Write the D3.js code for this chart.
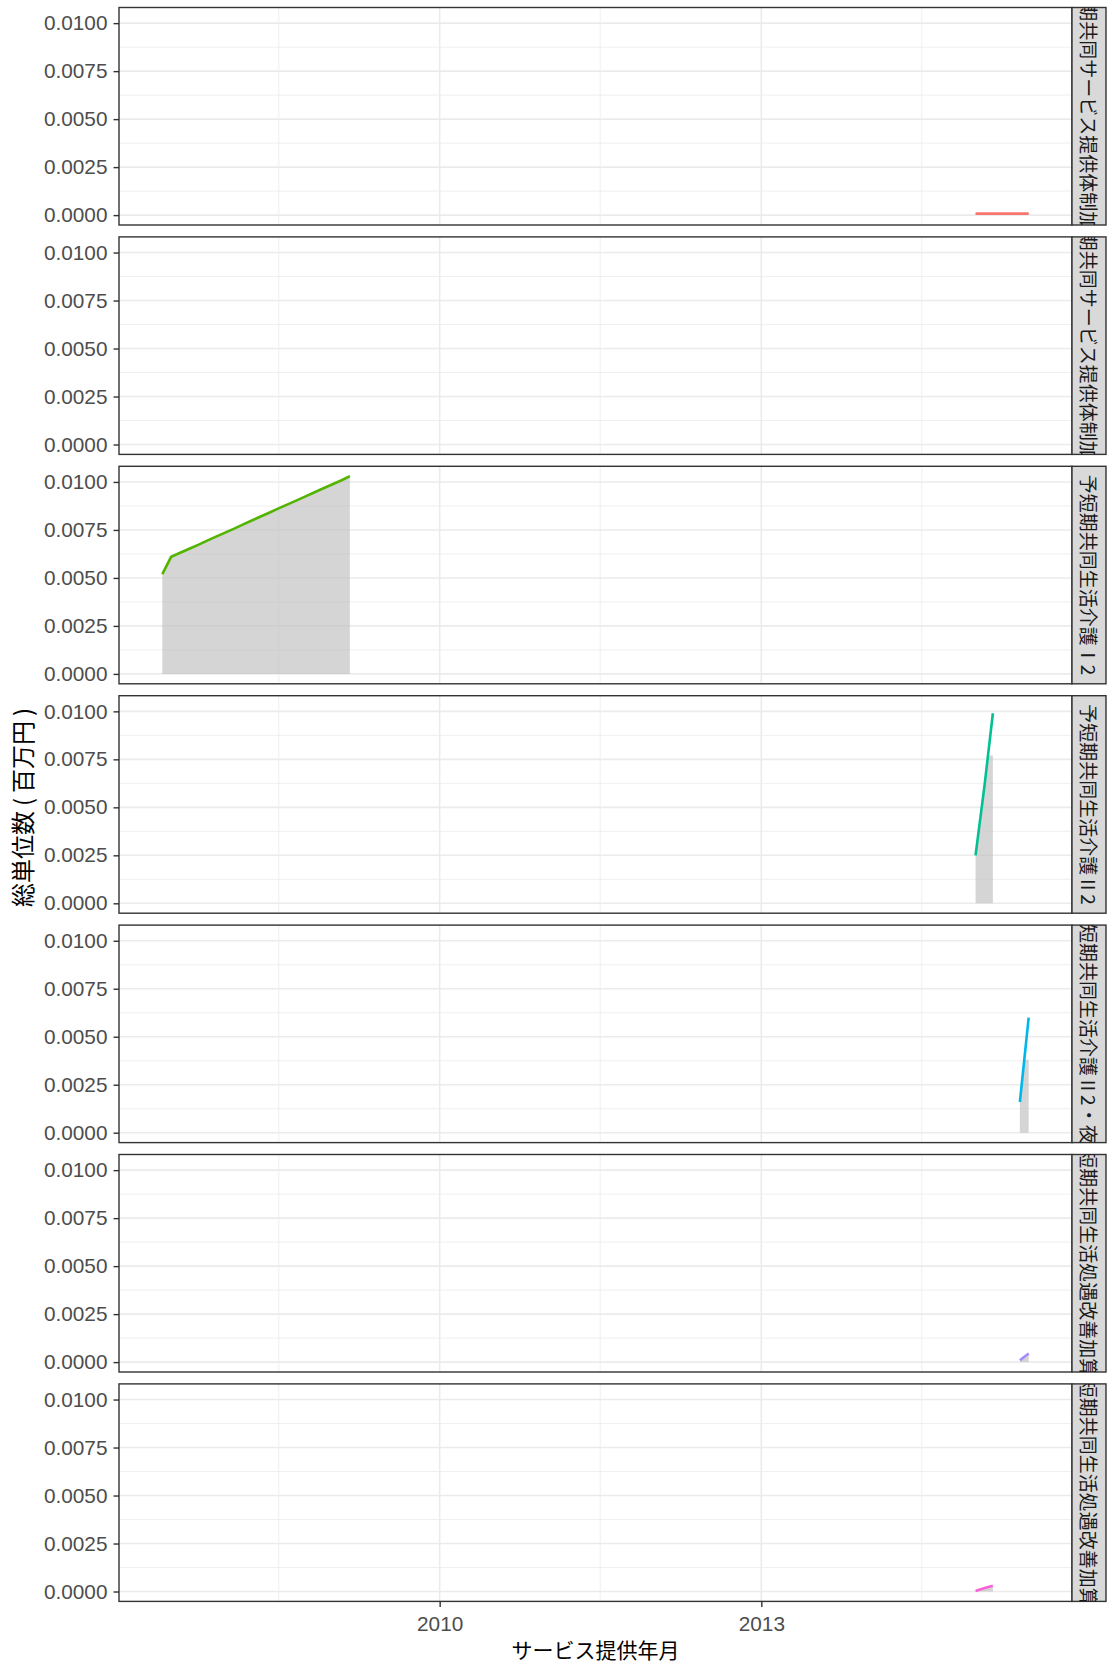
<!DOCTYPE html>
<html><head><meta charset="utf-8">
<script src="https://cdn.jsdelivr.net/npm/d3@7"></script>
<style>body{margin:0;background:#fff;} svg{display:block;}</style>
</head><body>
<svg id="c" width="1107" height="1665"></svg>
<script>
// ---------- data ----------
const facetLabels = [
  "予短期共同サービス提供体制加算Ⅰ",
  "予短期共同サービス提供体制加算Ⅱ",
  "予短期共同生活介護Ⅰ2",
  "予短期共同生活介護Ⅱ2",
  "予短期共同生活介護Ⅱ2・夜減",
  "予短期共同生活処遇改善加算Ⅰ",
  "予短期共同生活処遇改善加算Ⅱ"
];
const seriesColors = ["#F8766D","#C49A00","#53B400","#00C094","#00B6EB","#A58AFF","#FB61D7"];

// line series (month, value)
const dates1 = ["2015-01-01","2015-02-01","2015-03-01","2015-04-01","2015-05-01","2015-06-01","2015-07-01"];
const values1 = [0.00008,0.00008,0.00008,0.00008,0.00008,0.00008,0.00008];

const dates2 = [];
const values2 = [];

const dates3 = ["2007-06-01","2007-07-01","2007-08-01","2007-09-01","2007-10-01","2007-11-01","2007-12-01",
  "2008-01-01","2008-02-01","2008-03-01","2008-04-01","2008-05-01","2008-06-01","2008-07-01","2008-08-01",
  "2008-09-01","2008-10-01","2008-11-01","2008-12-01","2009-01-01","2009-02-01","2009-03-01"];
const values3 = [0.0052,0.0061,0.00631,0.00652,0.00672,0.00694,0.00715,
  0.00736,0.00757,0.00778,0.00799,0.0082,0.00841,0.00862,0.00883,
  0.00904,0.00925,0.00946,0.00967,0.00988,0.01009,0.0103];

const dates4 = ["2015-01-01","2015-02-01","2015-03-01"];
const values4 = [0.0025,0.0062,0.0099];

const dates5 = ["2015-06-01","2015-07-01"];
const values5 = [0.0016,0.0060];

const dates6 = ["2015-06-01","2015-07-01"];
const values6 = [0.0001,0.00045];

const dates7 = ["2015-01-01","2015-02-01","2015-03-01"];
const values7 = [0.00003,0.00018,0.0003];

// grey shaded areas (top edge of the shading)
const areaDates4 = ["2015-01-01","2015-02-01","2015-02-13","2015-03-01"];
const areaValues4 = [0.0025,0.0062,0.0077,0.0077];
const areaDates5 = ["2015-06-01","2015-06-16","2015-07-01"];
const areaValues5 = [0.0016,0.0038,0.0038];

const yTicks = [0, 0.0025, 0.005, 0.0075, 0.01];
const yMinorTicks = [0.00125, 0.00375, 0.00625, 0.00875];
const xTicks = ["2010-01-01","2013-01-01"];
const xTickLabels = ["2010","2013"];
const xMinorTicks = ["2008-07-02","2011-07-02","2014-07-02"];
const xTitle = "サービス提供年月";
const yTitleParts = ["総単位数","(","百万円",")"];

// ---------- layout ----------
const W = 1107, H = 1665;
const L = 119, R = 1072, stripW = 34;
const top0 = 7.5, panelH = 217.5, period = 229.4;

const parseD = d3.timeParse("%Y-%m-%d");
const mk = (ds,vs)=>ds.map((d,j)=>({date:parseD(d), value:vs[j]}));
const allDates = [dates1,dates2,dates3,dates4,dates5,dates6,dates7];
const allValues = [values1,values2,values3,values4,values5,values6,values7];
const series = allDates.map((ds,i)=>mk(ds,allValues[i]));
const areas = [
  mk(dates1,values1), mk(dates2,values2), mk(dates3,values3),
  mk(areaDates4,areaValues4), mk(areaDates5,areaValues5),
  mk(dates6,values6), mk(dates7,values7)
];

const flat = series.flat();
const dMin = d3.min(flat,d=>d.date), dMax = d3.max(flat,d=>d.date);
const span = dMax - dMin;
const x = d3.scaleTime()
  .domain([new Date(+dMin - 0.05*span), new Date(+dMax + 0.05*span)])
  .range([L, R]);
const vMax = d3.max(flat,d=>d.value);

const svg = d3.select("#c");
svg.append("rect").attr("width",W).attr("height",H).attr("fill","#fff");

const tickFont = "'Liberation Sans', Arial, sans-serif";
const cjk = "'Noto Sans CJK JP', sans-serif";

series.forEach((data,i)=>{
  const pt = top0 + i*period;
  const y = d3.scaleLinear().domain([-0.05*vMax, 1.05*vMax]).range([pt+panelH, pt]);
  const g = svg.append("g");
  // grid
  g.selectAll(".ymin").data(yMinorTicks).enter().append("line")
    .attr("x1",L).attr("x2",R).attr("y1",d=>y(d)).attr("y2",d=>y(d))
    .attr("stroke","#EBEBEB").attr("stroke-width",0.8);
  g.selectAll(".xmin").data(xMinorTicks).enter().append("line")
    .attr("x1",d=>x(parseD(d))).attr("x2",d=>x(parseD(d))).attr("y1",pt).attr("y2",pt+panelH)
    .attr("stroke","#EBEBEB").attr("stroke-width",0.8);
  g.selectAll(".ymaj").data(yTicks).enter().append("line")
    .attr("x1",L).attr("x2",R).attr("y1",d=>y(d)).attr("y2",d=>y(d))
    .attr("stroke","#EBEBEB").attr("stroke-width",1.6);
  g.selectAll(".xmaj").data(xTicks).enter().append("line")
    .attr("x1",d=>x(parseD(d))).attr("x2",d=>x(parseD(d))).attr("y1",pt).attr("y2",pt+panelH)
    .attr("stroke","#EBEBEB").attr("stroke-width",1.6);
  // area + line
  if (data.length){
    const area = d3.area().x(d=>x(d.date)).y0(y(0)).y1(d=>y(d.value));
    g.append("path").datum(areas[i]).attr("d",area).attr("fill","#BEBEBE").attr("fill-opacity",0.65);
    const line = d3.line().x(d=>x(d.date)).y(d=>y(d.value));
    g.append("path").datum(data).attr("d",line).attr("fill","none")
      .attr("stroke",seriesColors[i]).attr("stroke-width",2.6);
  }
  // border
  g.append("rect").attr("x",L).attr("y",pt).attr("width",R-L).attr("height",panelH)
    .attr("fill","none").attr("stroke","#333333").attr("stroke-width",1.4);
  // y axis
  const ya = d3.axisLeft(y).tickValues(yTicks).tickFormat(d3.format(".4f")).tickSizeOuter(0).tickSize(5.5).tickPadding(6);
  const yg = g.append("g").attr("transform",`translate(${L},0)`).call(ya);
  yg.select(".domain").remove();
  yg.selectAll(".tick line").attr("stroke","#333333").attr("stroke-width",1.4);
  yg.selectAll(".tick text").attr("fill","#4D4D4D").attr("font-size",20.8).attr("font-family",tickFont);
  // strip
  g.append("rect").attr("x",R).attr("y",pt).attr("width",stripW).attr("height",panelH)
    .attr("fill","#D9D9D9").attr("stroke","#333333").attr("stroke-width",1.4);
  const cid = "clip"+i;
  svg.append("clipPath").attr("id",cid).append("rect").attr("x",R).attr("y",pt).attr("width",stripW).attr("height",panelH);
  g.append("g").attr("clip-path",`url(#${cid})`)
    .append("text")
    .attr("transform",`translate(${R+stripW/2},${pt+panelH/2}) rotate(90)`)
    .attr("text-anchor","middle").attr("dominant-baseline","central")
    .attr("font-family",cjk).attr("font-size",19).attr("fill","#1A1A1A")
    .text(facetLabels[i]);
  // x axis on last panel
  if (i === series.length-1){
    const xa = d3.axisBottom(x).tickValues(xTicks.map(parseD)).tickFormat((d,k)=>xTickLabels[k]).tickSizeOuter(0).tickSize(5.5).tickPadding(9);
    const xg = g.append("g").attr("transform",`translate(0,${pt+panelH})`).call(xa);
    xg.select(".domain").remove();
    xg.selectAll(".tick line").attr("stroke","#333333").attr("stroke-width",1.4);
    xg.selectAll(".tick text").attr("fill","#4D4D4D").attr("font-size",20.8).attr("font-family",tickFont);
  }
});

svg.append("text").attr("x",(L+R)/2).attr("y",1658)
  .attr("text-anchor","middle").attr("font-family",cjk).attr("font-size",21).attr("fill","#000")
  .text(xTitle);
const midY = top0 + (6*period + panelH)/2;
const yt = svg.append("text").attr("transform",`translate(32,${midY+3}) rotate(-90)`)
  .attr("text-anchor","middle").attr("font-family",cjk).attr("font-size",24).attr("fill","#000");
yTitleParts.forEach((p,k)=>{
  const ts = yt.append("tspan").text(p);
  if (p === "(") ts.attr("dx",5);
  if (k === 2) ts.attr("dx",5);
  if (p === ")") ts.attr("dx",5);
});
</script>
</body></html>
